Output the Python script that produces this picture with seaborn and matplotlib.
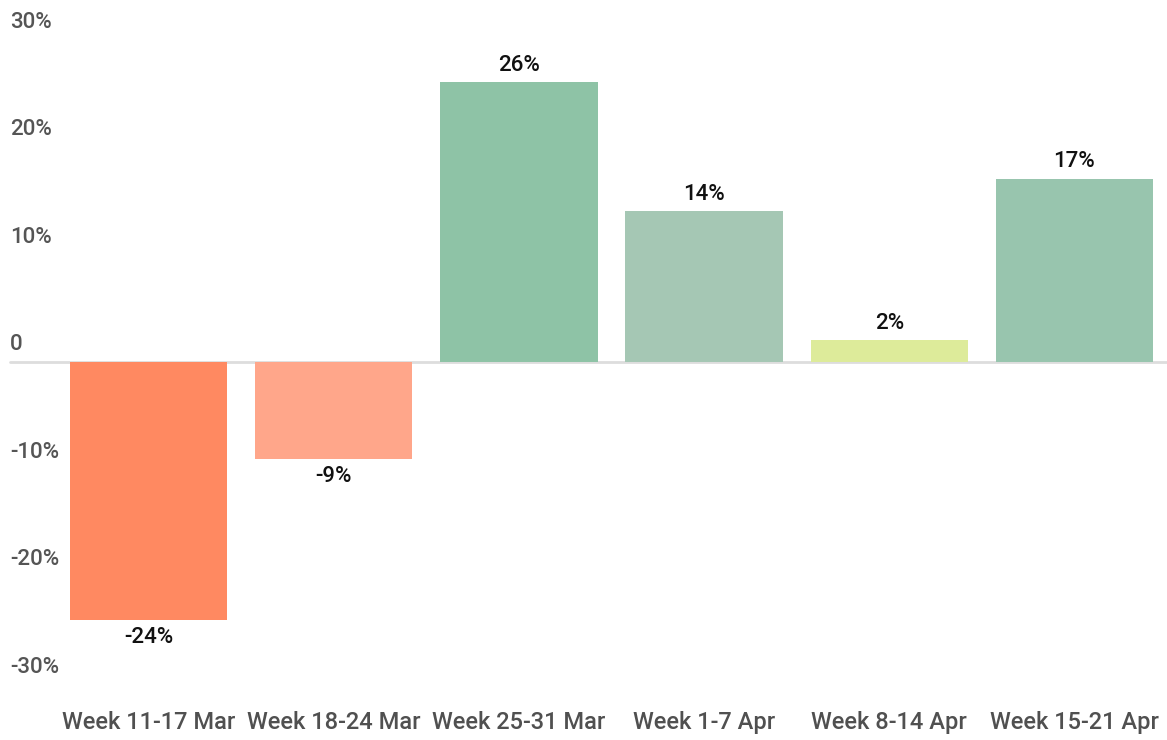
import matplotlib
matplotlib.use("Agg")
import matplotlib.pyplot as plt
import seaborn as sns
import pandas as pd

weeks = ["Week 11-17 Mar", "Week 18-24 Mar", "Week 25-31 Mar",
         "Week 1-7 Apr", "Week 8-14 Apr", "Week 15-21 Apr"]
change = [-24, -9, 26, 14, 2, 17]
bar_colors = ["#FF8961", "#FFA68A", "#8EC3A6", "#A5C7B4", "#DDEB9A", "#98C5AE"]
y_ticks = [30, 20, 10, 0, -10, -20, -30]
y_tick_labels = ["30%", "20%", "10%", "0", "-10%", "-20%", "-30%"]

sns.set_style("white")
plt.rcParams['font.family'] = ['Roboto', 'DejaVu Sans']

df = pd.DataFrame({"week": weeks, "change": change})

fig = plt.figure(figsize=(11.67, 7.40), dpi=100)
ax = fig.add_axes([56 / 1167, 0.0605, 1111 / 1167, 0.9395])

sns.barplot(data=df, x="week", y="change", hue="week", palette=bar_colors,
            width=0.85, legend=False, ax=ax, saturation=1, linewidth=0)

ax.set_xlim(-0.5, 5.5)
ax.set_ylim(-31, 33.67)
ax.axhline(0, xmin=-0.0414, xmax=1, color="#DDDDDD", lw=2, clip_on=False, zorder=0)

for c in ax.containers:
    ax.bar_label(c, labels=[f"{v}%" for v in c.datavalues.astype(int)],
                 padding=5, fontsize=16, fontweight="medium", color="#111111")

# y labels sit just above their value level, left aligned
for v, lbl in zip(y_ticks, y_tick_labels):
    ax.annotate(lbl, xy=(0, v), xycoords=("axes fraction", "data"),
                xytext=(-33, 5), textcoords="offset points",
                ha="left", va="bottom", fontsize=16, fontweight="medium",
                color="#555555", annotation_clip=False)

ax.set_yticks([])
ax.tick_params(axis="x", length=0, pad=11, labelsize=17, labelcolor="#505050")
for t in ax.get_xticklabels():
    t.set_fontweight("medium")
ax.set_xlabel("")
ax.set_ylabel("")
sns.despine(ax=ax, left=True, bottom=True)

fig.savefig("out.png", dpi=100)
